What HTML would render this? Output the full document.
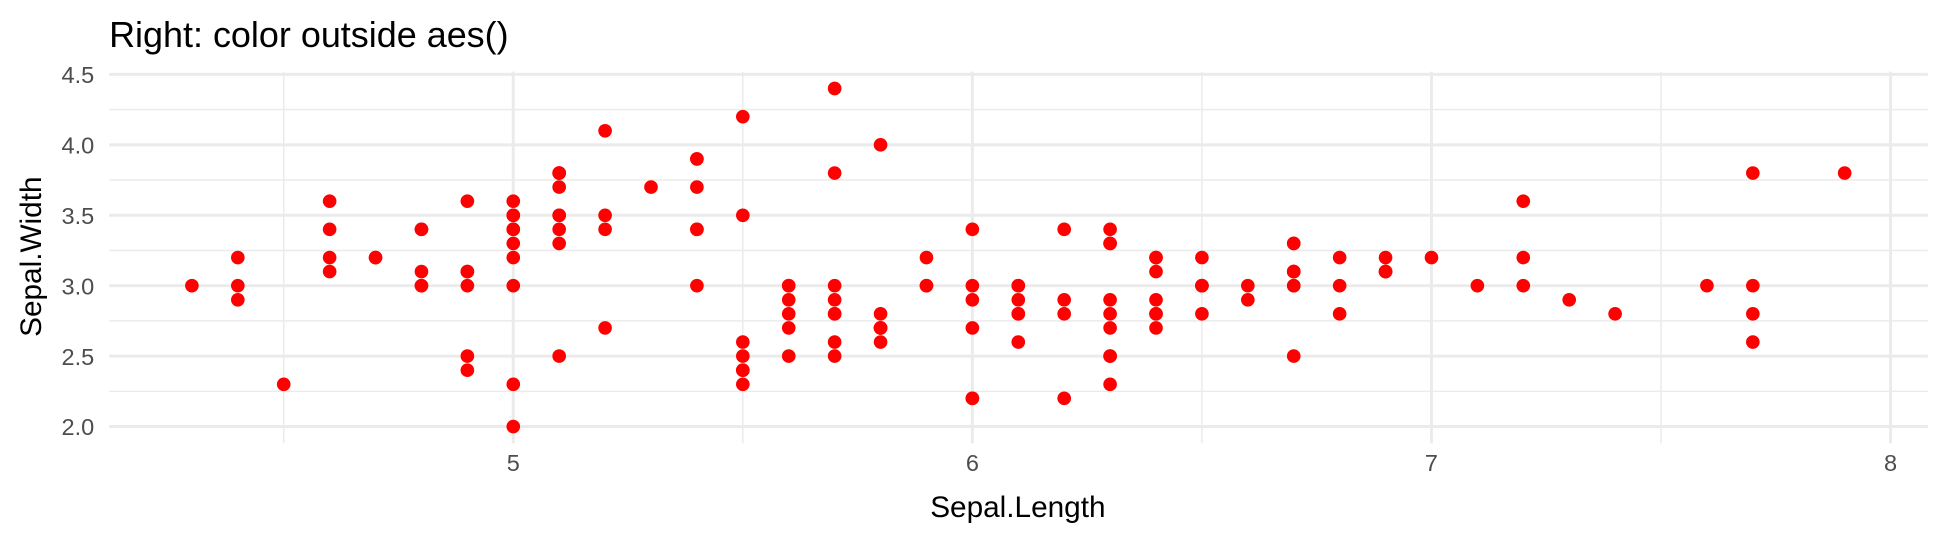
<!DOCTYPE html>
<html><head><meta charset="utf-8"><style>
body{margin:0;background:#fff;}
svg{display:block;font-family:"Liberation Sans",sans-serif;}
</style></head><body>
<svg id="chart" width="1944" height="540" viewBox="0 0 1568 435.5">
<text x="88" y="38" font-size="29" fill="#000">Right: color outside aes()</text>
<g id="grid"></g>
<g id="xticks"></g>
<g id="yticks"></g>
<g id="points"></g>
<text x="821" y="417" font-size="24" text-anchor="middle" fill="#000">Sepal.Length</text>
<text transform="translate(33,207) rotate(-90)" font-size="24" text-anchor="middle" fill="#000">Sepal.Width</text>
</svg>
<script>
const sepalLength=[5.1,4.9,4.7,4.6,5.0,5.4,4.6,5.0,4.4,4.9,5.4,4.8,4.8,4.3,5.8,5.7,5.4,5.1,5.7,5.1,5.4,5.1,4.6,5.1,4.8,5.0,5.0,5.2,5.2,4.7,4.8,5.4,5.2,5.5,4.9,5.0,5.5,4.9,4.4,5.1,5.0,4.5,4.4,5.0,5.1,4.8,5.1,4.6,5.3,5.0,
7.0,6.4,6.9,5.5,6.5,5.7,6.3,4.9,6.6,5.2,5.0,5.9,6.0,6.1,5.6,6.7,5.6,5.8,6.2,5.6,5.9,6.1,6.3,6.1,6.4,6.6,6.8,6.7,6.0,5.7,5.5,5.5,5.8,6.0,5.4,6.0,6.7,6.3,5.6,5.5,5.5,6.1,5.8,5.0,5.6,5.7,5.7,6.2,5.1,5.7,
6.3,5.8,7.1,6.3,6.5,7.6,4.9,7.3,6.7,7.2,6.5,6.4,6.8,5.7,5.8,6.4,6.5,7.7,7.7,6.0,6.9,5.6,7.7,6.3,6.7,7.2,6.2,6.1,6.4,7.2,7.4,7.9,6.4,6.3,6.1,7.7,6.3,6.4,6.0,6.9,6.7,6.9,5.8,6.8,6.7,6.7,6.3,6.5,6.2,5.9];
const sepalWidth=[3.5,3.0,3.2,3.1,3.6,3.9,3.4,3.4,2.9,3.1,3.7,3.4,3.0,3.0,4.0,4.4,3.9,3.5,3.8,3.8,3.4,3.7,3.6,3.3,3.4,3.0,3.4,3.5,3.4,3.2,3.1,3.4,4.1,4.2,3.1,3.2,3.5,3.6,3.0,3.4,3.5,2.3,3.2,3.5,3.8,3.0,3.8,3.2,3.7,3.3,
3.2,3.2,3.1,2.3,2.8,2.8,3.3,2.4,2.9,2.7,2.0,3.0,2.2,2.9,2.9,3.1,3.0,2.7,2.2,2.5,3.2,2.8,2.5,2.8,2.9,3.0,2.8,3.0,2.9,2.6,2.4,2.4,2.7,2.7,3.0,3.4,3.1,2.3,3.0,2.5,2.6,3.0,2.6,2.3,2.7,3.0,2.9,2.9,2.5,2.8,
3.3,2.7,3.0,2.9,3.0,3.0,2.5,2.9,2.5,3.6,3.2,2.7,3.0,2.5,2.8,3.2,3.0,3.8,2.6,2.2,3.2,2.8,2.8,2.7,3.3,3.2,2.8,3.0,2.8,3.0,2.8,3.8,2.8,2.8,2.6,3.0,3.4,3.1,3.0,3.1,3.1,3.1,2.7,3.2,3.3,3.0,2.5,3.0,3.4,3.0];
const xTicks=[5,6,7,8];
const xMinor=[4.5,5.5,6.5,7.5];
const yTicks=[2.0,2.5,3.0,3.5,4.0,4.5];
const yMinor=[2.25,2.75,3.25,3.75,4.25];
const NS="http://www.w3.org/2000/svg";
const L=88,R=1555,T=57.7,B=357.6;
const x=v=>414+(v-5)*370.3;
const y=v=>344-(v-2)*113.6;
function mk(tag,attrs,parent){const e=document.createElementNS(NS,tag);for(const k in attrs)e.setAttribute(k,attrs[k]);parent.appendChild(e);return e;}
const grid=document.getElementById('grid');
xMinor.forEach(v=>{const l=mk('line',{x1:x(v),x2:x(v),y1:T,y2:B,stroke:'#ebebeb','stroke-width':1.2},grid);

});
yMinor.forEach(v=>{const l=mk('line',{x1:L,x2:R,y1:y(v),y2:y(v),stroke:'#ebebeb','stroke-width':1.2},grid);

});
xTicks.forEach(v=>{const l=mk('line',{x1:x(v),x2:x(v),y1:T,y2:B,stroke:'#ebebeb','stroke-width':2.4},grid);

});
yTicks.forEach(v=>{const l=mk('line',{x1:L,x2:R,y1:y(v),y2:y(v),stroke:'#ebebeb','stroke-width':2.4},grid);

});
const xt=document.getElementById('xticks');
xTicks.forEach(v=>{const t=mk('text',{x:x(v),y:380,'font-size':19,fill:'#4d4d4d','text-anchor':'middle'},xt);t.textContent=v;

});
const yt=document.getElementById('yticks');
yTicks.forEach(v=>{const t=mk('text',{x:76,y:y(v)+7,'font-size':19,fill:'#4d4d4d','text-anchor':'end'},yt);t.textContent=v.toFixed(1);

});
const pts=document.getElementById('points');
sepalLength.forEach((v,i)=>{const c=mk('circle',{cx:x(v),cy:y(sepalWidth[i]),r:5.5,fill:'#ff0000'},pts);

});
</script>
</body></html>
